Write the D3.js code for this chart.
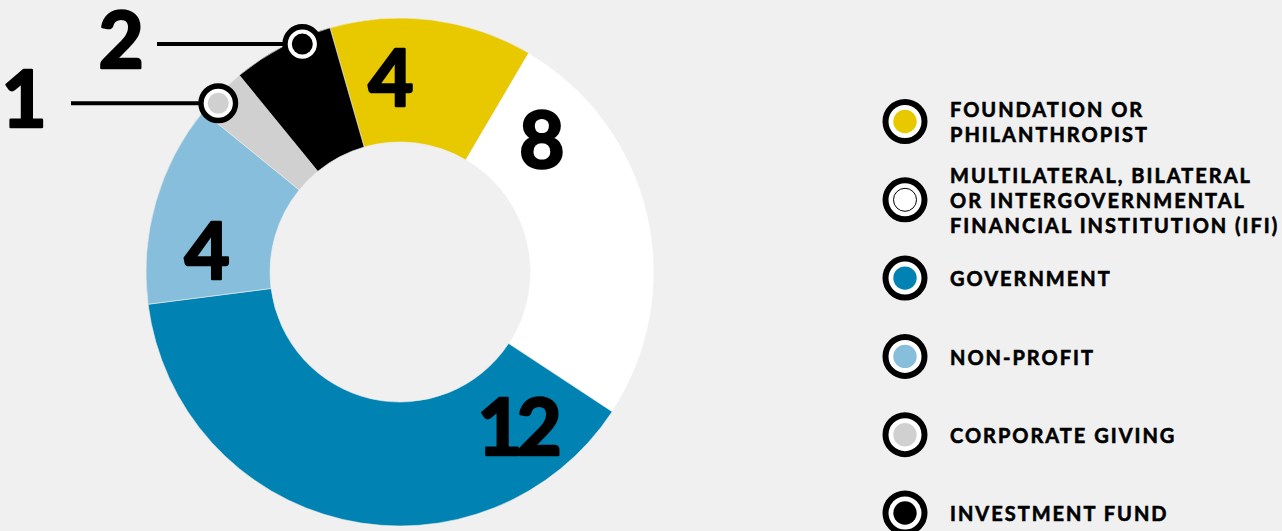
<!DOCTYPE html>
<html>
<head>
<meta charset="utf-8">
<script src="https://cdn.jsdelivr.net/npm/d3@7"></script>
<style>
  html, body { margin: 0; padding: 0; background: #f0f0f0; }
  svg { display: block; }
</style>
</head>
<body>
<div id="chart"></div>
<script>
// Data
const categories = [
  "Foundation or Philanthropist",
  "Multilateral, Bilateral or Intergovernmental Financial Institution (IFI)",
  "Government",
  "Non-Profit",
  "Corporate Giving",
  "Investment Fund"
];
const counts = [4, 8, 12, 4, 1, 2];
const legendLabels = [
  ["FOUNDATION OR", "PHILANTHROPIST"],
  ["MULTILATERAL, BILATERAL", "OR INTERGOVERNMENTAL", "FINANCIAL INSTITUTION (IFI)"],
  ["GOVERNMENT"],
  ["NON-PROFIT"],
  ["CORPORATE GIVING"],
  ["INVESTMENT FUND"]
];

// Style
const sliceColors = ["#e8c900", "#ffffff", "#0083b3", "#86bedb", "#d0d0d0", "#000000"];
const bg = "#f0f0f0";
const numberFont = "Lato, 'Open Sans', sans-serif";
const legendFont = "Lato, 'Open Sans', sans-serif";

const width = 1282, height = 531;
const cx = 400, cy = 272;
const innerR = 130, outerR = 254;
const rad = deg => deg * Math.PI / 180;

const data = categories.map((c, i) => ({ category: c, value: counts[i], color: sliceColors[i], lines: legendLabels[i] }));

const svg = d3.select("#chart").append("svg")
  .attr("width", width)
  .attr("height", height);

svg.append("rect").attr("width", width).attr("height", height).attr("fill", bg);

// Donut
const start = rad(-16);
const pie = d3.pie().sort(null).value(d => d.value)
  .startAngle(start).endAngle(start + 2 * Math.PI);
const arcs = pie(data);
const arc = d3.arc().innerRadius(innerR).outerRadius(outerR);

const g = svg.append("g").attr("transform", `translate(${cx},${cy})`);

g.selectAll("path.slice")
  .data(arcs)
  .enter().append("path")
  .attr("class", "slice")
  .attr("d", arc)
  .attr("fill", d => d.data.color)
  .attr("stroke", "#eeeeee")
  .attr("stroke-width", 0.6);

const polar = (a, r) => [r * Math.sin(a), -r * Math.cos(a)];

// heavy number style (Lato has no black weight here, so thicken with a stroke)
function heavy(sel) {
  return sel
    .style("font-family", numberFont)
    .style("font-weight", 700)
    .style("font-size", "78px")
    .attr("fill", "#000")
    .attr("stroke", "#000")
    .attr("stroke-width", 2.6)
    .attr("stroke-linejoin", "round");
}

// In-slice labels (big slices); offset in degrees from slice start
const labelR = 194;
const labelOffsets = { "Foundation or Philanthropist": 13.3, "Government": 19.7, "Non-Profit": 13.5 };
labelOffsets[categories[1]] = 16.5;
g.selectAll("text.num")
  .data(arcs.filter(d => d.data.value >= 4))
  .enter().append("text")
  .attr("class", "num")
  .attr("x", d => polar(d.startAngle + rad(labelOffsets[d.data.category]), labelR)[0])
  .attr("y", d => polar(d.startAngle + rad(labelOffsets[d.data.category]), labelR)[1])
  .attr("dy", "0.36em")
  .attr("text-anchor", "middle")
  .call(heavy)
  .style("letter-spacing", d => d.data.value >= 10 ? "-6px" : "0px")
  .text(d => d.data.value);

// Callouts (small slices)
const callouts = [
  { category: "Investment Fund", at: 0.69, lineX: 157, textX: 121 },
  { category: "Corporate Giving", at: 0.32, lineX: 71, textX: 24 }
];
const markerR = 248;
callouts.forEach(c => {
  const d = arcs.find(a => a.data.category === c.category);
  const a = d.startAngle + c.at * (d.endAngle - d.startAngle);
  const [mx, my] = polar(a, markerR);
  const px = cx + mx, py = cy + my;
  svg.append("line")
    .attr("x1", c.lineX).attr("x2", px)
    .attr("y1", py).attr("y2", py)
    .attr("stroke", "#000").attr("stroke-width", 4);
  svg.append("circle")
    .attr("cx", px).attr("cy", py).attr("r", 17.3)
    .attr("fill", "#fff").attr("stroke", "#000").attr("stroke-width", 5.4);
  svg.append("circle")
    .attr("cx", px).attr("cy", py).attr("r", 10.5)
    .attr("fill", d.data.color);
  svg.append("text")
    .attr("x", c.textX).attr("y", py - 4)
    .attr("dy", "0.36em")
    .attr("text-anchor", "middle")
    .call(heavy)
    .text(d.data.value);
});

// Legend
const legendY = d3.scalePoint().domain(categories).range([121.5, 513]);
const legendX = 905, textX = 950, lineH = 25, capH = 14.5;
const legend = svg.append("g").attr("class", "legend");
const items = legend.selectAll("g.item").data(data).enter().append("g").attr("class", "item");

items.append("circle")
  .attr("cx", legendX).attr("cy", d => legendY(d.category))
  .attr("r", 19.5)
  .attr("fill", "#fff").attr("stroke", "#000").attr("stroke-width", 6);
items.append("circle")
  .attr("cx", legendX).attr("cy", d => legendY(d.category))
  .attr("r", d => d.color === "#ffffff" ? 11.5 : 11.7)
  .attr("fill", d => d.color)
  .attr("stroke", d => d.color === "#ffffff" ? "#000" : "none")
  .attr("stroke-width", 1);

items.each(function(d) {
  const n = d.lines.length;
  const y0 = legendY(d.category) - (n - 1) * lineH / 2 + capH / 2 + 1;
  const t = d3.select(this).append("text")
    .attr("x", textX)
    .style("font-family", legendFont)
    .style("font-weight", 700)
    .style("font-size", "20px")
    .style("letter-spacing", "2px")
    .attr("fill", "#000")
    .attr("stroke", "#000")
    .attr("stroke-width", 0.6);
  d.lines.forEach((line, i) => {
    t.append("tspan").attr("x", textX).attr("y", y0 + i * lineH).text(line);
  });
});
</script>
</body>
</html>
